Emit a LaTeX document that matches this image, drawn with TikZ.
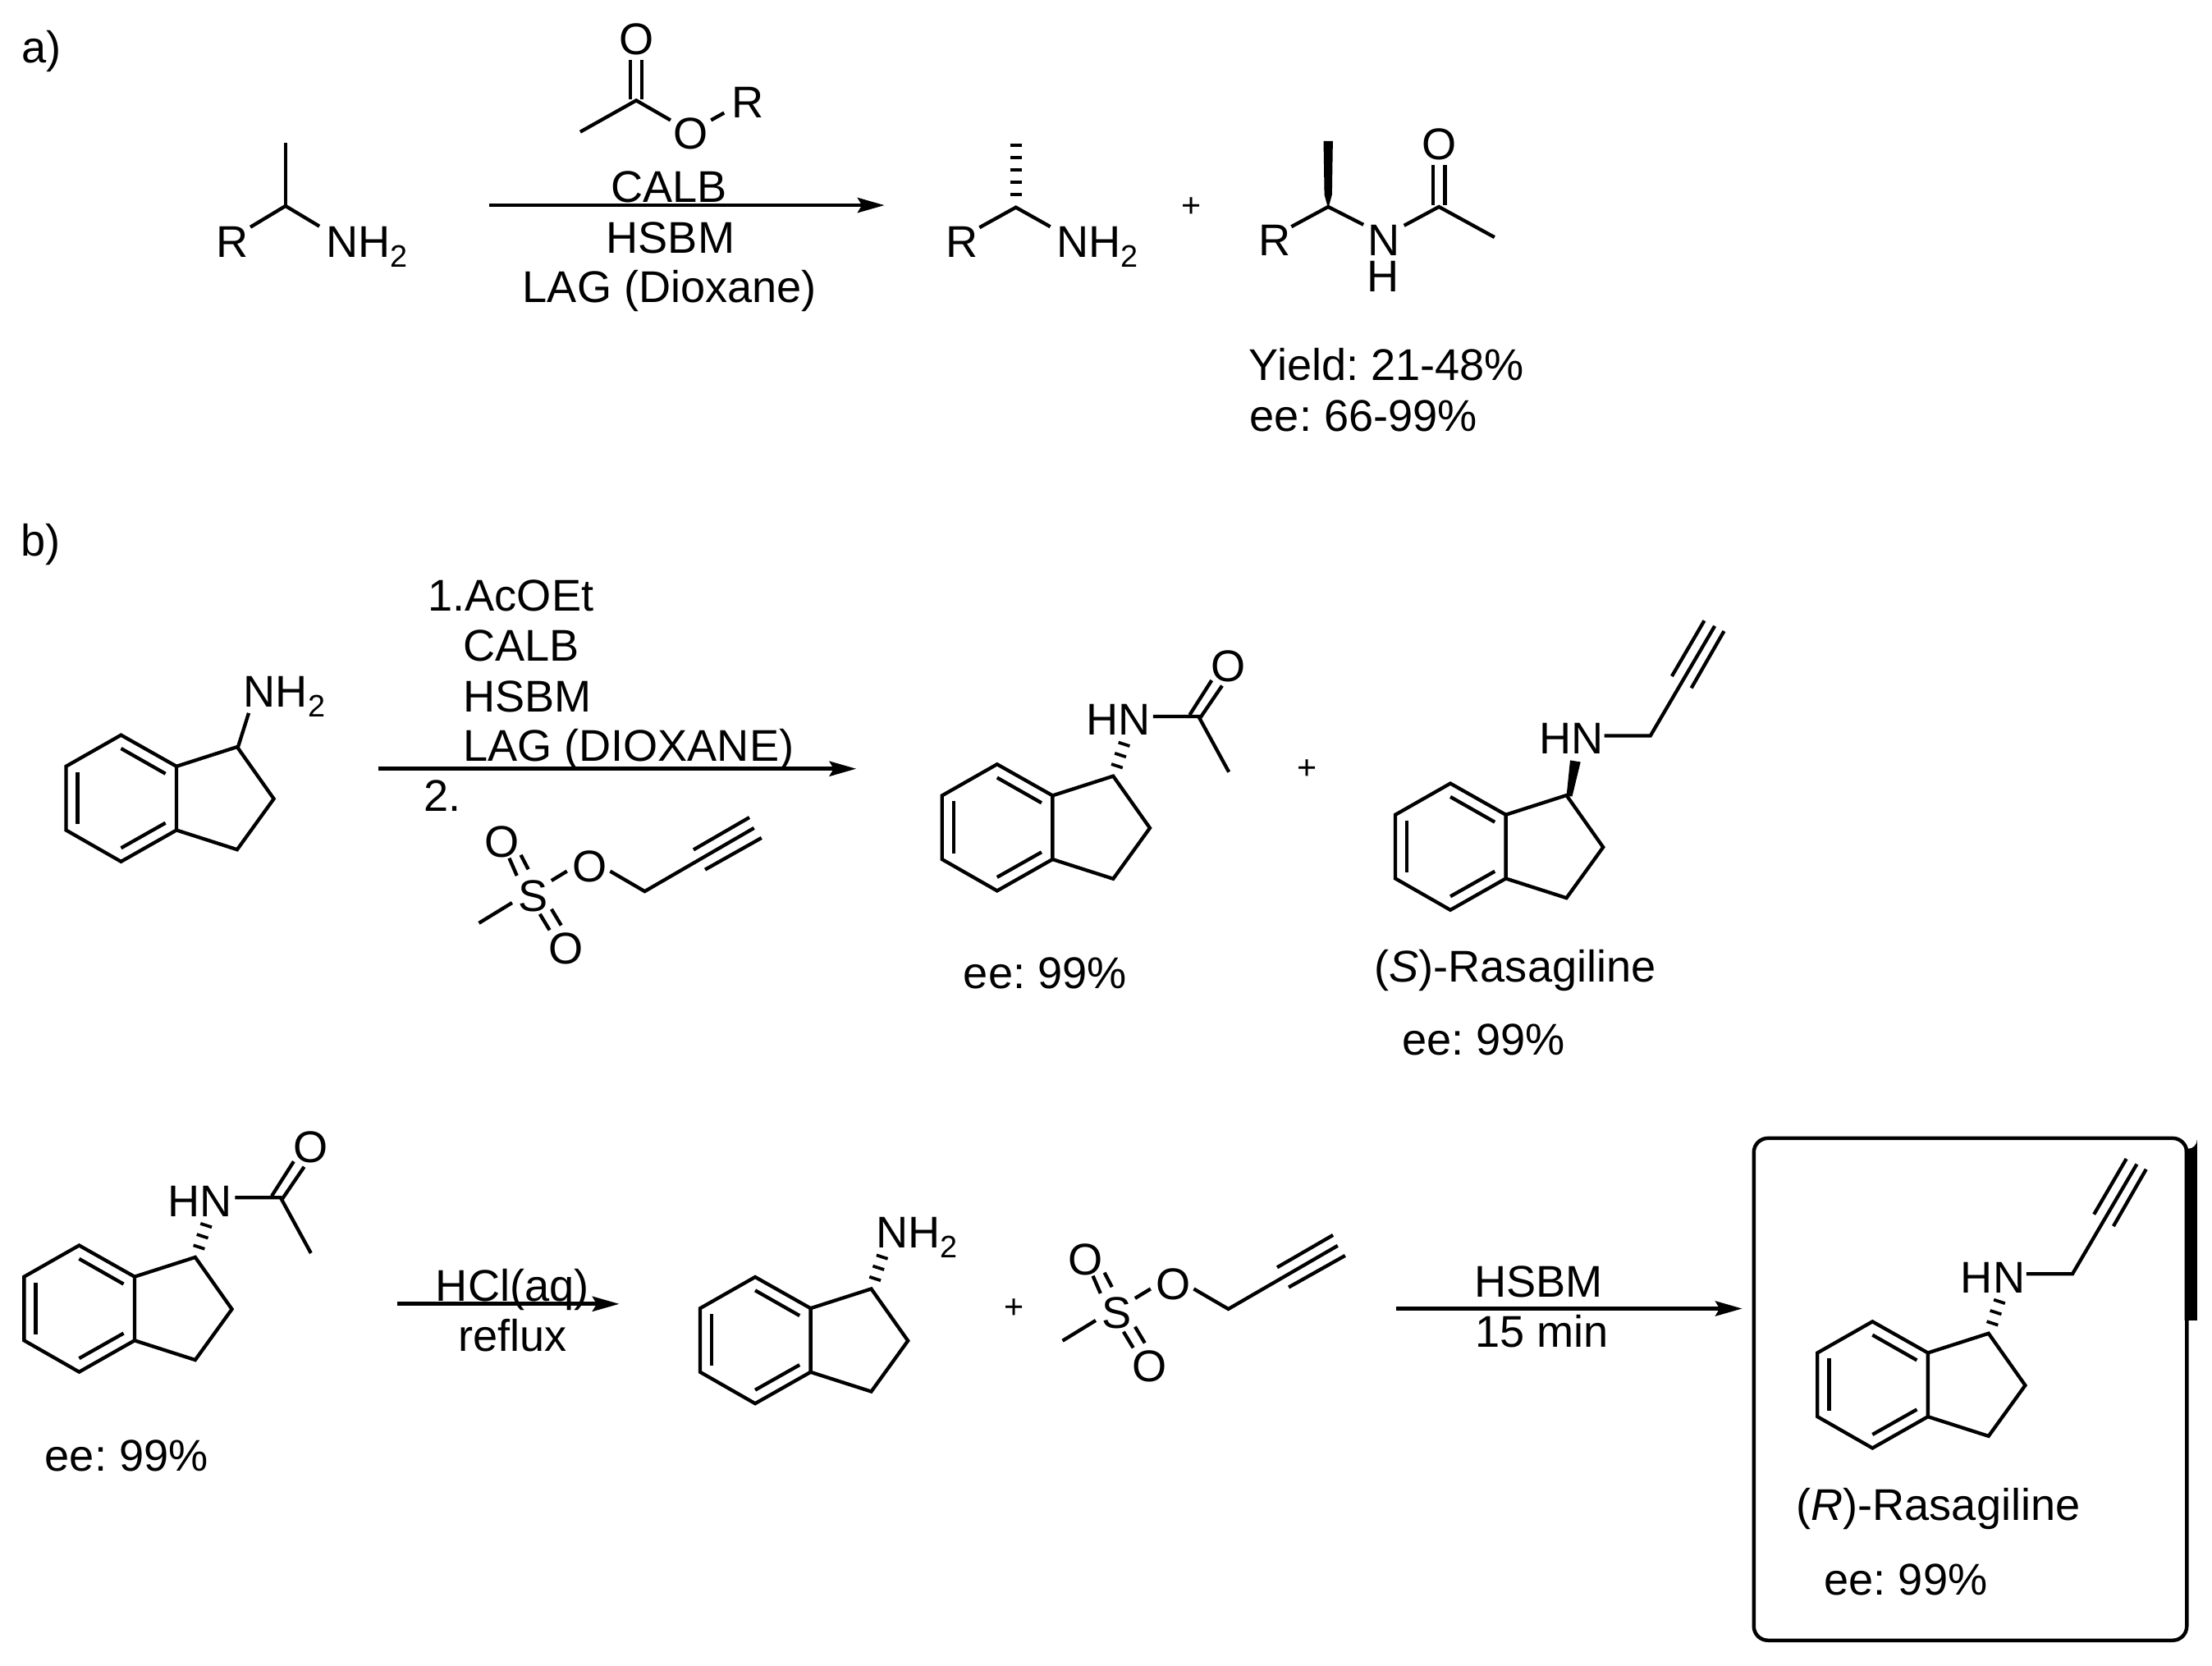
\documentclass[tikz,border=0pt]{standalone}
\usepackage{fontspec}
\setmainfont{Liberation Sans}
\frenchspacing
\usetikzlibrary{arrows.meta}
\newcommand{\subtwo}{\raisebox{-6.9pt}{\fontsize{22}{22}\selectfont 2}}
\newcommand{\indanering}{%
  \draw[bond] (706.8,541.8) -- (667.8,564) -- (667.8,609.2) -- (706.8,631.5) -- (746.1,609.2) -- (746.1,564) -- cycle;
  \draw[bond] (746.1,564) -- (789.1,550.2) -- (815.1,587) -- (789.1,623) -- (746.1,609.2);
  \draw[bond] (676,568) -- (676,604.8);
  \draw[bond] (706.8,551.3) -- (738.3,569.2);
  \draw[bond] (706.8,621.9) -- (738.3,604.1);
}
\newcommand{\hashup}{%
  \draw[hash] (787.8,541.7) -- (795.8,544.3);
  \draw[hash] (790.2,534) -- (798.2,536.6);
  \draw[hash] (792.8,526.3) -- (800.8,528.9);
}
\newcommand{\acetyl}{%
  \draw[bond] (817.3,507.9) -- (849.6,507.9) -- (871.1,547.3);
  \draw[bond] (843.3,506.8) -- (858.9,482.3);
  \draw[bond] (850.7,509) -- (866.3,486.1);
}
\newcommand{\propargyl}{%
  \draw[bond] (815.9,508) -- (848.6,508) -- (894.2,430.2);
  \draw[bond] (863.8,465.8) -- (886.8,426.4);
  \draw[bond] (877.6,474.2) -- (900.8,433.8);
}
\newcommand{\mesylate}{%
  \draw[bond] (339.5,654.4) -- (363,640);
  \draw[bond] (361,608.4) -- (366.4,620.8);
  \draw[bond] (369.2,606.1) -- (374.5,616.3);
  \draw[bond] (382.7,648) -- (389.6,659.4);
  \draw[bond] (390.9,644.5) -- (397.8,656);
  \draw[bond] (390.9,624.3) -- (401.9,617.6);
  \draw[bond] (432.5,617.6) -- (457,631.9) -- (534.5,587);
  \draw[bond] (491.6,602.4) -- (531.2,579.5);
  \draw[bond] (499.8,616.5) -- (539.8,594);
}
\tikzset{
  bond/.style={line width=2.5pt,line join=miter,line cap=butt},
  hash/.style={line width=2.2pt},
  rxn/.style={line width=2.8pt,-{Stealth[length=19pt,width=10.5pt,inset=3pt]}},
  txt/.style={anchor=base west,inner sep=0pt,outer sep=0pt,xshift=-1.5pt,yshift=-1pt,font=\fontsize{31.5}{31.5}\selectfont},
  atom/.style={anchor=center,inner sep=0pt,outer sep=0pt,yshift=-1pt,font=\fontsize{31.5}{31.5}\selectfont},
  plus/.style={anchor=center,inner sep=0pt,font=\fontsize{24}{24}\selectfont},
}
\begin{document}
\begin{tikzpicture}[x=1pt,y=-1pt]
\useasboundingbox (0,0) rectangle (1568,1181);
\fill[white] (0,0) rectangle (1568,1181);

% ---------- a)
\node[txt] (la) at (17,43.6) {a)};
\draw[bond] (202.4,101.4) -- (202.4,146);
\draw[bond] (177.5,161) -- (202.4,146) -- (226.4,160.4);
\node[txt] (r1) at (155,181.2) {R};
\node[txt] (n1) at (232.6,181.2) {NH\subtwo};
% ester
\node[atom] (eo1) at (451,27) {O};
\node[atom] (eo2) at (489.6,93.5) {O};
\node[txt] (er) at (520,82.7) {R};
\draw[bond] (446.8,42.6) -- (446.8,70.6);
\draw[bond] (455,42.6) -- (455,70.6);
\draw[bond] (411.3,93.5) -- (451,71.2) -- (475.3,85.2);
\draw[bond] (504,85.2) -- (513.3,80);
% arrow
\coordinate (a1s) at (346.8,145.5);
\coordinate (a1e) at (627,145.5);
\draw[rxn] (a1s) -- (a1e);
\node[txt] (t1) at (434.5,142.3) {CALB};
\node[txt] (t2) at (431.3,178.3) {HSBM};
\node[txt] (t3) at (372,213.4) {LAG (Dioxane)};
% product amine
\foreach \yy in {103,111.6,120.5,129.3,138.1}
  \draw[hash] (716,\yy) -- (724.2,\yy);
\draw[bond] (694.3,161.3) -- (720.1,147) -- (744.5,160.7);
\node[txt] (r2) at (672,181.5) {R};
\node[txt] (n2) at (750.4,181.5) {NH\subtwo};
\node[plus] (p1) at (844.8,147) {+};
% amide
\fill (938.2,100) -- (944.8,100) -- (944.2,138) -- (941.5,148) -- (938.8,138) -- cycle;
\draw[bond] (915.4,160.7) -- (941.5,146.6) -- (966.5,159.3);
\draw[bond] (995.3,159.9) -- (1020,146.6) -- (1059.4,168.2);
\draw[bond] (1016,116.7) -- (1016,145.6);
\draw[bond] (1024.3,116.7) -- (1024.3,145.6);
\node[atom] (o3) at (1020,101.4) {O};
\node[txt] (r3) at (893.8,180.4) {R};
\node[txt] (n3) at (971.2,180.4) {N};
\node[txt] (h3) at (970.6,206) {H};
\node[txt] (y1) at (887,268.5) {Yield: 21-48\%};
\node[txt] (e1) at (887.5,304.6) {ee: 66-99\%};

% ---------- b)
\node[txt] (lb) at (16.3,392.9) {b)};
\begin{scope}[shift={(-621,-20.7)}]
  \indanering
\end{scope}
\draw[bond] (168.5,530.3) -- (176.3,505.5);
\node[txt] (n4) at (174.2,500.2) {NH\subtwo};
\coordinate (a2s) at (268,545);
\coordinate (a2e) at (607,545);
\draw[rxn] (a2s) -- (a2e);
\node[txt] (t4) at (305,431.9) {1.AcOEt};
\node[txt] (t5) at (329.7,467.6) {CALB};
\node[txt] (t6) at (329.7,503.6) {HSBM};
\node[txt] (t7) at (329.7,538.8) {LAG (DIOXANE)};
\node[txt] (t8) at (302,574.4) {2.};
\mesylate
\node[atom] (s1) at (378,634) {S};
\node[atom] (so1) at (355.8,596) {O};
\node[atom] (so2) at (418.2,613.5) {O};
\node[atom] (so3) at (401,671.4) {O};

% compound A
\indanering \hashup \acetyl
\node[txt] (hn1) at (771.7,520.2) {HN};
\node[atom] (ao1) at (870.8,471.2) {O};
\node[txt] (e2) at (684.5,699.8) {ee: 99\%};
\node[plus] (p2) at (926.4,545.3) {+};

% compound B
\begin{scope}[shift={(321.3,13.6)}]
  \indanering \propargyl
\end{scope}
\fill (1110.4,564.5) -- (1113,539) -- (1120.4,540.2) -- (1114.5,564.5) -- cycle;
\node[txt] (hn2) at (1092.6,533.5) {HN};
\node[txt] (s2) at (975.8,694.9) {(\textit{S})-Rasagiline};
\node[txt] (e3) at (995.4,747.2) {ee: 99\%};

% ---------- third row
\begin{scope}[shift={(-650.7,341.1)}]
  \indanering \hashup \acetyl
\end{scope}
\node[txt] (hn3) at (120.6,861.3) {HN};
\node[atom] (ao2) at (220.1,812.3) {O};
\node[txt] (e4) at (33.4,1041.8) {ee: 99\%};
\coordinate (a3s) at (281.4,924.4);
\coordinate (a3e) at (439,924.4);
\draw[rxn] (a3s) -- (a3e);
\node[txt] (t9) at (310.4,921.3) {HCl(aq)};
\node[txt] (t10) at (326.4,957) {reflux};
\begin{scope}[shift={(-171.5,363.5)}]
  \indanering \hashup
\end{scope}
\node[txt] (n5) at (622.5,883.5) {NH\subtwo};
\node[plus] (p3) at (718.9,927.7) {+};
\begin{scope}[shift={(413.7,296.1)}]
  \mesylate
\end{scope}
\node[atom] (s3) at (791.7,930.1) {S};
\node[atom] (so4) at (769.5,892.1) {O};
\node[atom] (so5) at (831.9,909.6) {O};
\node[atom] (so6) at (814.7,967.5) {O};
\coordinate (a4s) at (989.4,927.7);
\coordinate (a4e) at (1235,927.7);
\draw[rxn] (a4s) -- (a4e);
\node[txt] (t11) at (1046.6,918.6) {HSBM};
\node[txt] (t12) at (1047.2,954.1) {15 min};

% framed product
\fill (1548.6,814.4) -- (1551,814.4) arc[start angle=90,end angle=0,radius=6.4] -- (1557.4,936) -- (1548.6,936) -- cycle;
\draw[line width=2.6pt,rounded corners=10pt] (1243.2,806.9) rectangle (1550.1,1162.9);
\begin{scope}[shift={(620.5,395.1)}]
  \indanering \hashup \propargyl
\end{scope}
\node[txt] (hn4) at (1391.4,915.9) {HN};
\node[txt] (s4) at (1274.8,1077) {(\textit{R})-Rasagiline};
\node[txt] (e5) at (1294.7,1130) {ee: 99\%};
\end{tikzpicture}
\end{document}
